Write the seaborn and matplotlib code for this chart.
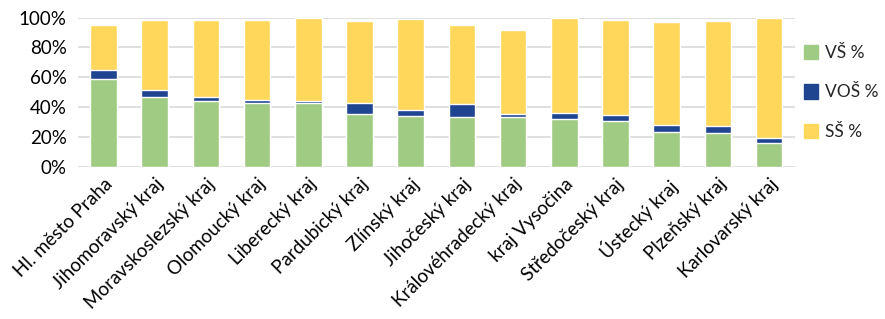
import numpy as np
import pandas as pd
import matplotlib
matplotlib.use("Agg")
import matplotlib.pyplot as plt
import seaborn as sns
from matplotlib.patches import Patch
from matplotlib.ticker import PercentFormatter

# DATA (shares of the population)
regions = ["Hl. město Praha", "Jihomoravský kraj", "Moravskoslezský kraj", "Olomoucký kraj",
           "Liberecký kraj", "Pardubický kraj", "Zlínský kraj", "Jihočeský kraj",
           "Královéhradecký kraj", "kraj Vysočina", "Středočeský kraj", "Ústecký kraj",
           "Plzeňský kraj", "Karlovarský kraj"]
vs = [59.0, 47.2, 44.3, 43.2, 43.2, 35.6, 34.3, 33.5, 33.2, 32.1, 30.7, 23.6, 22.9, 16.0]
vos = [5.8, 4.5, 2.5, 1.8, 1.1, 7.2, 4.2, 8.8, 2.4, 4.0, 4.3, 4.7, 4.9, 3.6]
ss = [30.3, 46.8, 51.5, 53.3, 55.7, 55.0, 60.6, 52.4, 56.2, 63.9, 63.5, 69.0, 70.0, 80.4]

green = "#A0CB83"
navy = "#1F4591"
yellow = "#FFD75A"

df = pd.DataFrame({"kraj": regions, "VŠ": vs, "VOŠ": vos, "SŠ": ss})
df[["VŠ", "VOŠ", "SŠ"]] = df[["VŠ", "VOŠ", "SŠ"]] / 100
# cumulative heights, drawn back to front
df["top"] = df["VŠ"] + df["VOŠ"] + df["SŠ"]
df["mid"] = df["VŠ"] + df["VOŠ"]

sns.set_style("white")
plt.rcParams["font.family"] = ["Lato", "DejaVu Sans"]

fig = plt.figure(figsize=(8.85, 3.19), dpi=100)
ax = fig.add_axes([0.088, 0.476, 0.81, 0.469])

sns.barplot(data=df, x="kraj", y="top", color=yellow, width=0.52, saturation=1, ax=ax)
sns.barplot(data=df, x="kraj", y="mid", color=navy, width=0.52, saturation=1, ax=ax)
sns.barplot(data=df, x="kraj", y="VŠ", color=green, width=0.52, saturation=1, ax=ax)

ax.set_ylim(0, 1)
ax.set_xlim(-0.5, len(regions) - 0.5)
ax.yaxis.set_major_formatter(PercentFormatter(1.0, decimals=0))
ax.set_yticks(np.arange(0, 1.01, 0.2))
ax.grid(axis="y", color="#D9D9D9", linewidth=1.2)
ax.set_axisbelow(True)
for s in ax.spines.values():
    s.set_visible(False)
ax.set_xlabel("")
ax.set_ylabel("")
ax.tick_params(axis="both", length=0, labelsize=13.5, colors="#000000")
ax.tick_params(axis="y", pad=8)
ax.tick_params(axis="x", pad=6)
ax.set_xticks(range(len(regions)))
ax.set_xticklabels(regions, rotation=45, ha="right", rotation_mode="anchor")

handles = [Patch(color=green, label="VŠ %"),
           Patch(color=navy, label="VOŠ %"),
           Patch(color=yellow, label="SŠ %")]
fig.legend(handles=handles, loc="upper left", bbox_to_anchor=(0.909, 0.86),
           frameon=False, fontsize=12.5, labelspacing=1.35, handlelength=0.8,
           handleheight=0.9, handletextpad=0.4, borderpad=0, borderaxespad=0)

fig.savefig("out.png", dpi=100)
